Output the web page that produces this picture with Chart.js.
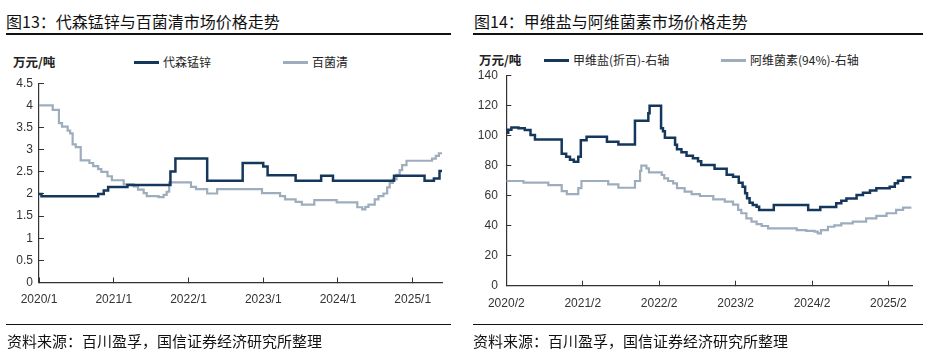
<!DOCTYPE html>
<html><head><meta charset="utf-8">
<script src="https://cdn.jsdelivr.net/npm/chart.js@4"></script>
<style>
body{margin:0;background:#fff;}
#wrap{position:relative;width:934px;height:356px;overflow:hidden;background:#fff;font-family:"Noto Sans CJK SC","Noto Sans",sans-serif;}
.t{position:absolute;white-space:nowrap;}
.title{font-size:16px;line-height:20px;color:#111;top:11px;}
.rule{position:absolute;height:1.5px;background:#111;}
.unit{font-size:12.5px;font-weight:bold;color:#222;line-height:16px;}
.leg{font-size:12px;color:#222;line-height:16px;}
.sw{position:absolute;height:2.5px;}
.src{font-size:15px;color:#111;line-height:20px;top:331px;}
canvas{position:absolute;top:0;}
</style></head>
<body><div id="wrap">
<div class="t title" style="left:6px">图13：代森锰锌与百菌清市场价格走势</div>
<div class="rule" style="left:6px;top:33px;width:445px"></div>
<div class="t title" style="left:474px">图14：甲维盐与阿维菌素市场价格走势</div>
<div class="rule" style="left:473px;top:33px;width:450px"></div>

<div class="t unit" style="left:13px;top:54px">万元/吨</div>
<div class="sw" style="left:134px;top:61px;width:25px;background:#16375c"></div>
<div class="t leg" style="left:163px;top:54px">代森锰锌</div>
<div class="sw" style="left:283px;top:61px;width:25px;background:#9eadbd"></div>
<div class="t leg" style="left:312px;top:54px">百菌清</div>

<div class="t unit" style="left:479px;top:52px">万元/吨</div>
<div class="sw" style="left:544px;top:59px;width:25px;background:#16375c"></div>
<div class="t leg" style="left:573px;top:52px">甲维盐(折百)-右轴</div>
<div class="sw" style="left:721px;top:59px;width:25px;background:#9eadbd"></div>
<div class="t leg" style="left:750px;top:52px">阿维菌素(94%)-右轴</div>

<canvas id="c1" width="460" height="356" style="left:0"></canvas>
<canvas id="c2" width="468" height="356" style="left:466px"></canvas>

<div class="rule" style="left:6px;top:323.5px;width:445px"></div>
<div class="rule" style="left:473px;top:323.5px;width:450px"></div>
<div class="t src" style="left:7px">资料来源：百川盈孚，国信证券经济研究所整理</div>
<div class="t src" style="left:473px">资料来源：百川盈孚，国信证券经济研究所整理</div>
</div>
<script>
// ---- left chart: months since 2020/1 ----
const leftXLabels = ['2020/1','2021/1','2022/1','2023/1','2024/1','2025/1'];
const leftYLabels = ['0','0.5','1','1.5','2','2.5','3','3.5','4','4.5'];
const mzMonths = [0,0.4,9.5,10.4,11.1,14.2,21.1,21.9,27.0,32.7,36.0,36.7,41.2,45.3,47.2,57.0,61.9,63.4,64.3,64.7];
const mzValues = [2.0,1.95,2.0,2.08,2.16,2.2,2.51,2.8,2.3,2.7,2.62,2.42,2.3,2.41,2.3,2.41,2.3,2.35,2.52,2.52];
const bjqMonths = [0,2.2,3.2,3.7,4.6,5.0,5.4,5.9,6.7,8.1,8.7,9.5,10.0,11.0,11.7,13.6,15.2,15.9,16.8,17.3,19.2,20.0,20.5,20.9,24.4,25.2,27.0,28.6,35.8,38.7,39.5,41.2,42.2,44.2,47.8,51.1,51.9,52.4,52.9,53.9,54.5,55.3,55.9,56.3,56.8,57.4,57.9,58.3,59.0,63.1,63.7,64.2,64.7];
const bjqValues = [4.0,3.9,3.6,3.52,3.43,3.37,3.12,3.06,2.76,2.7,2.63,2.56,2.5,2.4,2.31,2.22,2.17,2.1,2.02,1.95,1.93,1.98,2.05,2.26,2.16,2.11,2.01,2.11,2.02,1.95,1.88,1.82,1.76,1.86,1.81,1.7,1.65,1.71,1.76,1.88,1.95,2.01,2.15,2.25,2.33,2.43,2.54,2.65,2.75,2.8,2.86,2.92,2.92];

// ---- right chart: months since 2020/2 ----
const rightXLabels = ['2020/2','2021/2','2022/2','2023/2','2024/2','2025/2'];
const rightYLabels = ['0','20','40','60','80','100','120','140'];
const jwyMonths = [0,0.3,0.8,1.9,2.9,3.8,4.5,8.7,9.4,10.0,10.6,11.3,11.7,12.6,15.8,17.6,20.2,22.3,22.5,24.3,24.6,24.9,26.5,26.8,27.5,28.3,29.3,30.1,30.6,32.7,34.6,35.6,36.5,37.1,37.5,37.8,38.2,38.7,39.3,39.7,42.0,47.4,49.3,51.8,52.6,53.4,55.0,56.0,57.1,58.1,60.2,61.0,61.5,62.3,63.6];
const jwyValues = [102,104,105.5,105,103.8,100.5,97.5,88,86,84,82.7,86,97,99.3,96,94.2,110,115,120,105,103,98.7,94,91,89,86.7,85,83,80.5,78,74,72.7,68.7,66,61.6,58.3,55.3,53.8,52.7,50.5,53.8,50.5,52.5,55,56.7,58.2,60.5,62,63.4,64.9,66,68.3,70,72.3,72.3];
const awMonths = [0,2.7,6.6,8.7,9.5,11.3,11.8,16.0,17.6,20.2,21.0,21.2,22.0,22.4,24.4,24.8,25.4,26.2,26.8,28.0,29.1,30.4,32.5,34.3,35.6,36.4,36.9,37.7,38.5,39.3,40.1,41.1,45.6,47.1,48.4,48.9,49.4,50.5,51.5,52.6,54.4,56.5,58.1,59.7,61.2,62.3,63.6];
const awValues = [69.8,68.7,67.1,63.1,61.1,65,69.8,67.6,65.3,69.8,76.5,80,78.2,75.6,73.8,71.6,69.8,68.2,65,62.7,61.1,59.8,57.6,56,54,50.5,48.3,44.9,42.7,41.1,39.8,38.2,37.1,36.6,36,34.9,37.1,39.3,40.2,41.6,42.7,44.9,46.5,48.3,50.5,52,52];

const DARK = '#16375c', LIGHT = '#9eadbd';
const tickFont = {family:'"Liberation Sans", Arial, sans-serif', size:12};

function pts(ms, vs){ return ms.map((m,i)=>({x:m, y:vs[i]})); }

function makeChart(id, o){
  const xTickVals = o.xLabels.map((_,i)=>i*12);
  const yTickVals = o.yLabels.map((_,i)=>i*o.yStep);
  return new Chart(document.getElementById(id), {
    type:'line',
    data:{datasets:[
      {label:o.names[0], data:pts(o.d1m,o.d1v), borderColor:DARK, borderWidth:2.5, stepped:true, pointRadius:0, fill:false},
      {label:o.names[1], data:pts(o.d2m,o.d2v), borderColor:LIGHT, borderWidth:2.2, stepped:true, pointRadius:0, fill:false}
    ]},
    options:{
      responsive:false, animation:false, devicePixelRatio:1,
      layout:{padding:{top:o.top, right:o.right, left:0, bottom:0}},
      plugins:{legend:{display:false}, tooltip:{enabled:false}},
      scales:{
        x:{type:'linear', min:0, max:o.xMax,
          afterBuildTicks:s=>{ s.ticks = xTickVals.map(v=>({value:v})); },
          afterFit:s=>{ s.height = o.xH; },
          ticks:{autoSkip:false, maxRotation:0, padding:o.xPad, color:'#333', font:tickFont,
            callback:v=>o.xLabels[Math.round(v/12)]},
          grid:{drawOnChartArea:false, drawTicks:true, tickLength:-5, color:'#333', lineWidth:1},
          border:{display:true, color:'#333', width:1.2}},
        y:{min:0, max:o.yMax,
          afterBuildTicks:s=>{ s.ticks = yTickVals.map(v=>({value:v})); },
          afterFit:s=>{ s.width = o.yW; },
          ticks:{padding:o.yPad, color:'#333', font:tickFont,
            callback:(v)=>o.yLabels[Math.round(v/o.yStep)]},
          grid:{drawOnChartArea:false, drawTicks:true, tickLength:-5, color:'#333', lineWidth:1},
          border:{display:true, color:'#333', width:1.2}}
      }
    }
  });
}

makeChart('c1', {names:['代森锰锌','百菌清'], d1m:mzMonths, d1v:mzValues, d2m:bjqMonths, d2v:bjqValues,
  xLabels:leftXLabels, yLabels:leftYLabels, yStep:0.5, yMax:4.5, xMax:64.7,
  top:83.3, right:18, xH:73.5, yW:39, xPad:15, yPad:11});
makeChart('c2', {names:['甲维盐(折百)-右轴','阿维菌素(94%)-右轴'], d1m:jwyMonths, d1v:jwyValues, d2m:awMonths, d2v:awValues,
  xLabels:rightXLabels, yLabels:rightYLabels, yStep:20, yMax:140, xMax:63.7,
  top:75.7, right:22, xH:70.3, yW:40.3, xPad:16, yPad:13.5});
</script>
</body></html>
